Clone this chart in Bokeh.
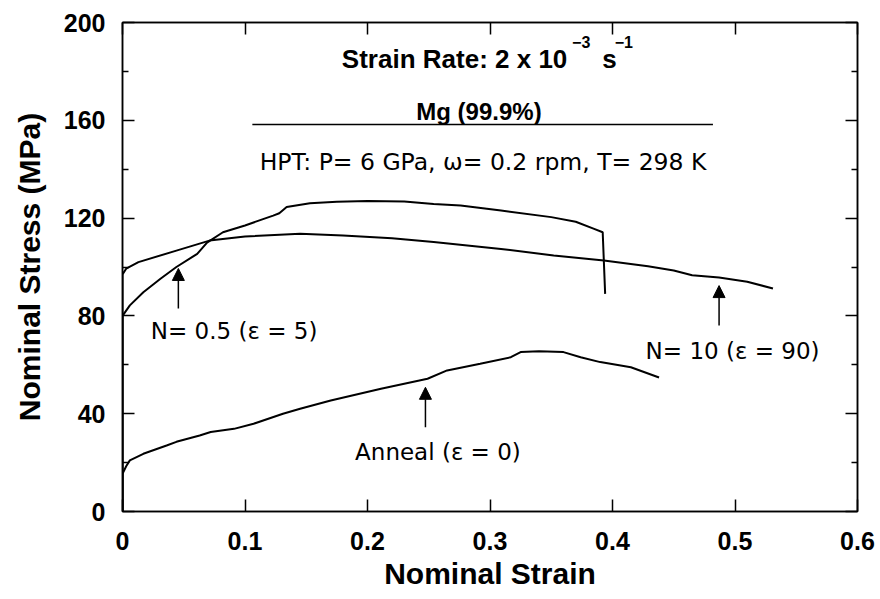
from bokeh.plotting import figure
from bokeh.models import FixedTicker, LinearAxis, Range1d, Label, Arrow, NormalHead
from bokeh.embed import file_html
from bokeh.resources import INLINE

# ---------------- data ----------------
anneal_strain = [0.0, 0.0, 0.003, 0.006, 0.017, 0.036, 0.044, 0.063, 0.072, 0.091, 0.107, 0.131, 0.145,
                 0.170, 0.211, 0.249, 0.265, 0.292, 0.317, 0.325, 0.340, 0.360, 0.374, 0.390, 0.415, 0.438]
anneal_stress = [0.0, 15.4, 18.5, 20.9, 23.6, 27.0, 28.5, 31.1, 32.5, 33.8, 35.9, 40.0, 42.0,
                 45.4, 50.2, 54.3, 57.7, 60.4, 63.1, 65.2, 65.5, 65.2, 63.1, 61.1, 59.0, 54.8]

n05_strain = [0.0, 0.0, 0.006, 0.017, 0.031, 0.044, 0.061, 0.069, 0.082, 0.100, 0.123, 0.128, 0.134,
              0.153, 0.175, 0.200, 0.230, 0.254, 0.276, 0.309, 0.350, 0.370, 0.385, 0.392, 0.394]
n05_stress = [0.0, 80.0, 84.3, 89.7, 95.2, 100.0, 105.4, 110.0, 114.2, 117.0, 121.0, 122.0, 124.5,
              126.1, 126.7, 127.0, 126.8, 125.8, 125.2, 123.1, 120.4, 118.5, 115.6, 114.2, 89.0]

n10_strain = [0.0, 0.0, 0.003, 0.013, 0.044, 0.071, 0.100, 0.145, 0.180, 0.220, 0.254, 0.309, 0.352,
              0.393, 0.429, 0.450, 0.465, 0.487, 0.510, 0.531]
n10_stress = [0.0, 97.0, 99.3, 102.0, 106.7, 110.8, 112.5, 113.6, 112.9, 111.8, 110.2, 107.4, 104.7,
              102.7, 100.3, 98.6, 96.6, 95.7, 94.0, 91.2]

x_ticks = [0, 0.1, 0.2, 0.3, 0.4, 0.5, 0.6]
x_tick_labels = ["0", "0.1", "0.2", "0.3", "0.4", "0.5", "0.6"]
y_ticks = [0, 40, 80, 120, 160, 200]
y_tick_labels = ["0", "40", "80", "120", "160", "200"]
y_minor_ticks = [20, 60, 100, 140, 180]

# ---------------- figure ----------------
p = figure(width=880, height=599, x_range=Range1d(0, 0.6), y_range=Range1d(0, 200),
           output_backend="svg", toolbar_location=None,
           min_border_left=122, min_border_right=23, min_border_top=22, min_border_bottom=88)
p.grid.visible = False
p.outline_line_color = "black"
p.outline_line_width = 1.5
p.background_fill_color = "white"
p.border_fill_color = "white"

TICK_FONT = "Liberation Sans"
LABEL_FONT = "Liberation Sans"
ANN_FONT = "DejaVu Sans"


def style_ticks(ax):
    ax.axis_line_color = "black"
    ax.axis_line_width = 1.5
    ax.major_tick_line_color = "black"
    ax.major_tick_line_width = 1.5
    ax.minor_tick_line_color = "black"
    ax.minor_tick_line_width = 1.5
    ax.major_tick_in = 12
    ax.major_tick_out = 0
    ax.minor_tick_in = 6
    ax.minor_tick_out = 0


xa = p.xaxis[0]
xa.ticker = FixedTicker(ticks=x_ticks, minor_ticks=[])
xa.major_label_overrides = dict(zip(x_ticks, x_tick_labels))
ya = p.yaxis[0]
ya.ticker = FixedTicker(ticks=y_ticks, minor_ticks=y_minor_ticks)
ya.major_label_overrides = dict(zip(y_ticks, y_tick_labels))

for ax in (xa, ya):
    style_ticks(ax)
    ax.major_label_text_font = TICK_FONT
    ax.major_label_text_font_style = "bold"
    ax.major_label_text_font_size = "25px"
    ax.major_label_text_color = "black"
    ax.axis_label_text_font = LABEL_FONT
    ax.axis_label_text_font_style = "bold"
    ax.axis_label_text_font_size = "30px"
    ax.axis_label_text_color = "black"

xa.axis_label = "Nominal Strain"
xa.major_label_standoff = 20
xa.axis_label_standoff = 4
ya.axis_label = "Nominal Stress (MPa)"
ya.major_label_standoff = 17
ya.axis_label_standoff = 15

top = LinearAxis(ticker=FixedTicker(ticks=x_ticks, minor_ticks=[]))
right = LinearAxis(ticker=FixedTicker(ticks=y_ticks, minor_ticks=y_minor_ticks))
for ax in (top, right):
    style_ticks(ax)
    ax.major_label_text_color = None
    ax.major_label_text_font_size = "1px"
    ax.major_label_standoff = 0
p.add_layout(top, "above")
p.add_layout(right, "right")

# ---------------- curves ----------------
for xs, ys in ((anneal_strain, anneal_stress), (n05_strain, n05_stress), (n10_strain, n10_stress)):
    p.line(xs, ys, line_color="black", line_width=2)


# ---------------- annotations ----------------
def add_label(x, y, text, font, size, bold=False, align="center"):
    p.add_layout(Label(x=x, y=y, text=text, text_font=font, text_font_size=size,
                       text_font_style="bold" if bold else "normal", text_color="black",
                       text_align=align, text_baseline="alphabetic"))


add_label(0.3631, 184.9, "Strain Rate: 2 x 10", LABEL_FONT, "26px", bold=True, align="right")
add_label(0.367, 192.0, "\u22123", LABEL_FONT, "16px", bold=True, align="left")
add_label(0.3916, 184.9, "s", LABEL_FONT, "26px", bold=True, align="left")
add_label(0.4018, 192.0, "\u22121", LABEL_FONT, "16px", bold=True, align="left")

add_label(0.291, 163.4, "Mg (99.9%)", LABEL_FONT, "24px", bold=True)
p.segment(x0=[0.106], y0=[158.3], x1=[0.482], y1=[158.3], line_color="black", line_width=1.5)

add_label(0.2943, 142.8, "HPT: P= 6 GPa, \u03c9= 0.2 rpm, T= 298 K", ANN_FONT, "23.5px")
add_label(0.0911, 73.9, "N= 0.5 (\u03b5 = 5)", ANN_FONT, "23px")
add_label(0.498, 65.7, "N= 10 (\u03b5 = 90)", ANN_FONT, "23px")
add_label(0.2575, 24.2, "Anneal (\u03b5 = 0)", ANN_FONT, "23px")

for ax_, y0, y1 in ((0.0456, 83.0, 99.4), (0.487, 76.1, 92.4), (0.2473, 34.5, 50.8)):
    p.add_layout(Arrow(end=NormalHead(size=12, fill_color="black", line_color="black", line_width=1),
                       x_start=ax_, y_start=y0, x_end=ax_, y_end=y1,
                       line_color="black", line_width=1.5))

open("out.html", "w").write(file_html(p, INLINE))
